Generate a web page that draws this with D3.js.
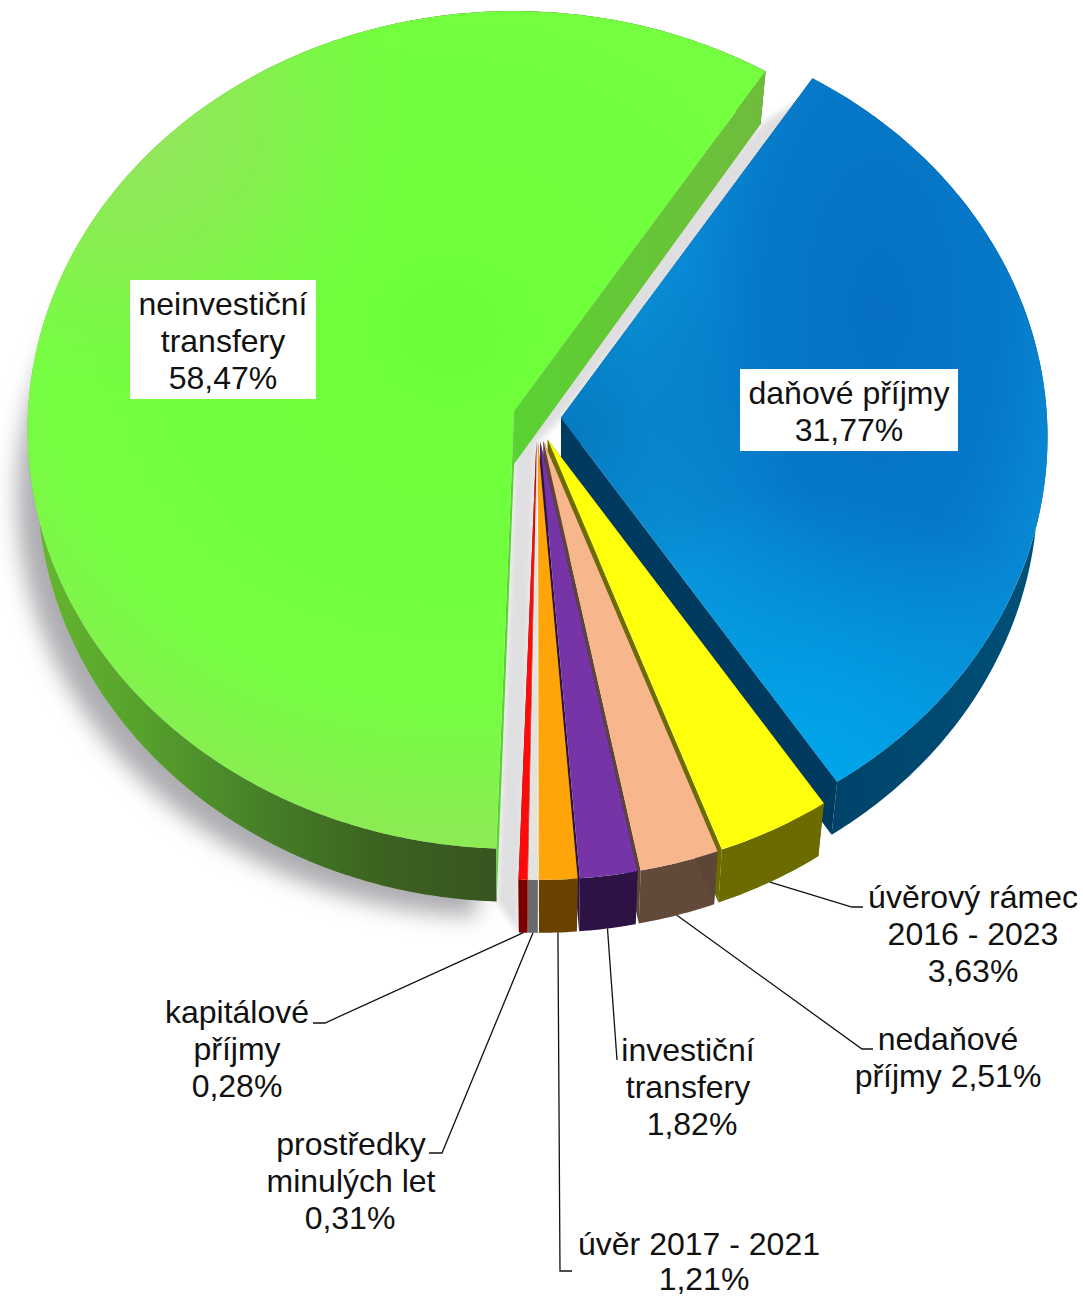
<!DOCTYPE html>
<html lang="cs">
<head>
<meta charset="utf-8">
<style>
  html, body { margin: 0; padding: 0; background: #fff; }
  svg { display: block; }
  text { font-family: "Liberation Sans", Arial, sans-serif; font-size: 32px; fill: #111; text-anchor: middle; }
</style>
</head>
<body>
<div id="chart"></div>
<script src="https://cdn.jsdelivr.net/npm/d3@7"></script>
<script>
// data, clockwise from the cut between the green and blue slices
const categories = ["daňové příjmy", "úvěrový rámec 2016 - 2023", "nedaňové příjmy", "investiční transfery", "úvěr 2017 - 2021", "prostředky minulých let", "kapitálové příjmy", "neinvestiční transfery"];
const shares = [31.77, 3.63, 2.51, 1.82, 1.21, 0.31, 0.28, 58.47];
const shareLabels = ["31,77%", "3,63%", "2,51%", "1,82%", "1,21%", "0,31%", "0,28%", "58,47%"];
const topColors = ["url(#blueTop)", "#ffff0c", "#f7b68b", "#7634a6", "#ffa50a", "#e6e4da", "#ff0a0a", "url(#greenTop)"];
const wallColors = ["url(#blueWall)", "#6b6b00", "#614a3a", "#2c1245", "#6a4200", "#6a6a6a", "#7a0000", "url(#greenWall)"];
const cutColors = ["#003a5e", "#6b6b00", "#5e4636", "#2c1245", "#6a4200", "#6a6a6a", "#7a0000", "url(#greenCut)"];

// label text lines, same order as categories
const labelLines = [
    ["daňové příjmy", "31,77%"],
    ["úvěrový rámec", "2016 - 2023", "3,63%"],
    ["nedaňové", "příjmy 2,51%"],
    ["investiční", "transfery", "1,82%"],
    ["úvěr 2017 - 2021", "1,21%"],
    ["prostředky", "minulých let", "0,31%"],
    ["kapitálové", "příjmy", "0,28%"],
    ["neinvestiční", "transfery", "58,47%"]
];

// where labels sit on the page: x per line, first baseline, optional white box
const labelLayout = [
    { xs: [849, 849], y: 404, box: [740, 369, 218, 82] },
    { xs: [973, 973, 973], y: 908 },
    { xs: [948, 948], y: 1050 },
    { xs: [688, 688, 692], y: 1061 },
    { xs: [699, 704], y: 1255, lh: 35 },
    { xs: [351, 351, 350], y: 1155 },
    { xs: [237, 237, 237], y: 1023 },
    { xs: [223, 223, 223], y: 315, box: [130, 280, 186, 119] }
];

// leader elbows, the first point comes from the slice rim
const leaders = [
    null,
    [[852, 907], [863, 907]],
    [[862, 1049], [873, 1049]],
    [[617, 1060]],
    [[560, 1271], [572, 1271]],
    [[442, 1153], [429, 1153]],
    [[325, 1023], [313, 1023]],
    null
];

const width = 1083, height = 1297;
const cx = 537, cy = 418;        // pie centre before the slices are pulled out
const pull = 24;                 // explosion
const Rx = 486, Ry = 418;        // top face radii
const persp = 0.0454;            // near side is drawn larger
const depth = 53, bottomScale = 0.98;
const lineHeight = 36.8;
const startDeg = 32.5;

const svg = d3.select("#chart").append("svg").attr("width", width).attr("height", height);
const defs = svg.append("defs");

function linearGrad(id, x1, x2, stops) {
    const g = defs.append("linearGradient").attr("id", id).attr("gradientUnits", "userSpaceOnUse")
        .attr("x1", x1).attr("y1", 0).attr("x2", x2).attr("y2", 0);
    stops.forEach(s => g.append("stop").attr("offset", s[0]).attr("stop-color", s[1]));
}
function radialGrad(id, tx, ty, sx, sy, stops) {
    const g = defs.append("radialGradient").attr("id", id).attr("gradientUnits", "userSpaceOnUse")
        .attr("cx", 0).attr("cy", 0).attr("r", 1)
        .attr("gradientTransform", `translate(${tx},${ty}) scale(${sx},${sy})`);
    stops.forEach(s => {
        const st = g.append("stop").attr("offset", s[0]).attr("stop-color", s[1]);
        if (s.length > 2) st.attr("stop-opacity", s[2]);
    });
}
radialGrad("greenTop", 450, 330, 620, 560, [[0, "#6cff38"], [0.65, "#74ff40"], [1, "#94e45b"]]);
radialGrad("greenGlow", 130, 120, 280, 280, [[0, "#a0dc68", 0.8], [0.5, "#98e060", 0.5], [1, "#90e858", 0]]);
radialGrad("blueTop", 880, 310, 240, 480, [[0, "#0570c3"], [0.5, "#0678c8"], [1, "#0993da"]]);
radialGrad("blueGlow", 570, 430, 200, 200, [[0, "#0570b8", 0.7], [1, "#0570b8", 0]]);
radialGrad("blueLow", 810, 780, 290, 290, [[0, "#00a6ea", 1], [1, "#00a6ea", 0]]);
linearGrad("greenWall", 30, 495, [[0, "#66b82f"], [0.25, "#56a02c"], [0.5, "#467f28"], [0.75, "#3c6320"], [1, "#38541f"]]);
linearGrad("greenCut", 513, 765, [[0, "#5ad232"], [1, "#70bc3c"]]);
linearGrad("blueWall", 835, 1040, [[0, "#00446a"], [1, "#005078"]]);

const slices = d3.pie().sort(null).value(d => d)
    .startAngle(startDeg * Math.PI / 180)
    .endAngle(startDeg * Math.PI / 180 + 2 * Math.PI)(shares);

slices.forEach(s => {
    s.mid = (s.startAngle + s.endAngle) / 2;
    s.apex = [cx + pull * Math.sin(s.mid), cy - pull * Math.cos(s.mid)];
});

// screen position of an angle on the rim of a slice
function rim(s, a, bottom) {
    const X = Math.sin(a), Y = -Math.cos(a);
    const w = 1 / (1 - persp * Y);
    const dx = Rx * X * w, dy = Ry * Y * w;
    return bottom ? [s.apex[0] + dx * bottomScale, s.apex[1] + dy + depth] : [s.apex[0] + dx, s.apex[1] + dy];
}
function rimPoints(s, bottom) {
    const n = Math.max(3, Math.ceil((s.endAngle - s.startAngle) * 90));
    return d3.range(n + 1).map(i => rim(s, s.startAngle + (s.endAngle - s.startAngle) * i / n, bottom));
}
const line = d3.line();
const closed = pts => line(pts) + "Z";
const apexBottom = s => [s.apex[0], s.apex[1] + depth];

function topPath(s) { return closed([s.apex].concat(rimPoints(s, false))); }
function outerPath(s) { return closed(rimPoints(s, false).concat(rimPoints(s, true).reverse())); }
function cutPath(s, a) { return closed([s.apex, rim(s, a, false), rim(s, a, true), apexBottom(s)]); }

const blue = slices[0], red = slices[6], green = slices[7];

// soft shadow of the big slice, left and below it
svg.append("path")
    .attr("d", closed([apexBottom(green)].concat(rimPoints(green, true))))
    .attr("transform", "translate(-20,15)")
    .attr("fill", "#adadb1")
    .style("filter", "blur(11px)");

// the gaps between the slices sit in the same shadow
const lowerGap = [apexBottom(green), rim(green, green.startAngle, true), rim(red, red.endAngle, true), red.apex];
const upperGap = [apexBottom(green), green.apex, rim(green, green.endAngle, true), rim(blue, blue.startAngle + 0.03, false), blue.apex, red.apex];
svg.append("g").style("filter", "blur(3px)")
    .selectAll("path").data([lowerGap, upperGap])
    .join("path").attr("d", closed).attr("fill", "#dfdfe1");

// painter's order: green, blue, then the small slices from right to left
const drawOrder = [7, 0, 1, 2, 3, 4, 6, 5];
const pieG = svg.append("g");
drawOrder.forEach(i => {
    const s = slices[i];
    const g = pieG.append("g").attr("class", "slice").attr("aria-label", categories[i] + " " + shareLabels[i]);
    g.append("path").attr("d", outerPath(s)).attr("fill", wallColors[i]);
    g.append("path").attr("d", cutPath(s, s.startAngle)).attr("fill", cutColors[i]);
    g.append("path").attr("d", cutPath(s, s.endAngle)).attr("fill", cutColors[i]);
    g.append("path").attr("d", topPath(s)).attr("fill", topColors[i]);
    if (i === 7) g.append("path").attr("d", topPath(s)).attr("fill", "url(#greenGlow)");
    if (i === 0) {
        g.append("path").attr("d", topPath(s)).attr("fill", "url(#blueGlow)");
        g.append("path").attr("d", topPath(s)).attr("fill", "url(#blueLow)");
    }
});

// leader lines
const leaderG = svg.append("g").attr("fill", "none").attr("stroke", "#111").attr("stroke-width", 1.3);
leaders.forEach((pts, i) => {
    if (!pts) return;
    const from = rim(slices[i], slices[i].mid, true);
    leaderG.append("path").attr("d", line([from].concat(pts)));
});

// labels
labelLines.forEach((lines, i) => {
    const l = labelLayout[i];
    if (l.box) {
        svg.append("rect").attr("x", l.box[0]).attr("y", l.box[1]).attr("width", l.box[2]).attr("height", l.box[3]).attr("fill", "#fff");
    }
    lines.forEach((t, j) => {
        svg.append("text").attr("x", l.xs[j]).attr("y", l.y + j * (l.lh || lineHeight)).text(t);
    });
});
</script>
</body>
</html>
